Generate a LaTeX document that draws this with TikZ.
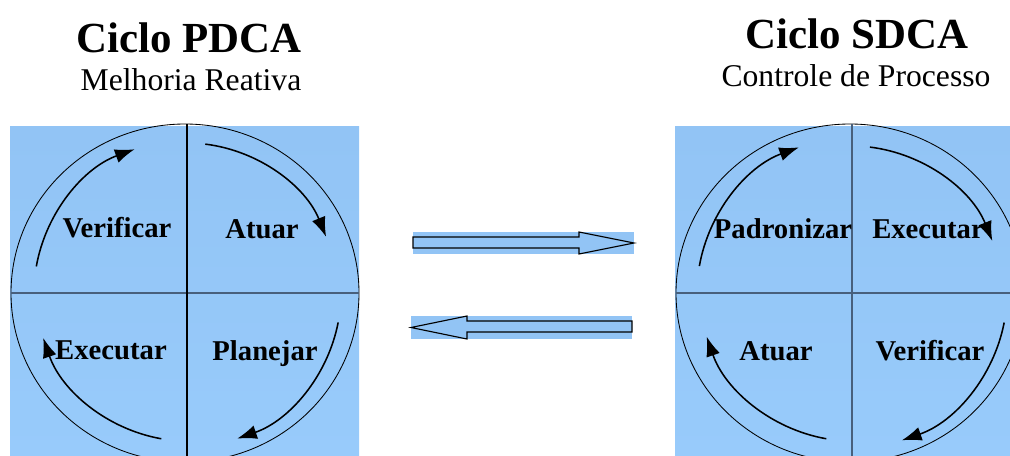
\documentclass[tikz,border=0pt]{standalone}
\usepackage{fontspec}
\setmainfont{Liberation Serif}
\usetikzlibrary{arrows.meta}
\definecolor{painel}{RGB}{146,196,245}
\definecolor{painelbaixo}{RGB}{152,203,251}
\definecolor{eixo}{RGB}{72,96,124}
\tikzset{ciclo/.style = {line width=1.1pt, -{Latex[length=14pt,width=10pt]}}}
\tikzset{rotulo/.style = {anchor=base, font=\fontsize{20.4}{24}\selectfont\bfseries}}
\tikzset{titulo/.style = {anchor=base, font=\fontsize{30.5}{36}\selectfont\bfseries}}
\tikzset{subtitulo/.style = {anchor=base, font=\fontsize{22.5}{27}\selectfont}}
\tikzset{seta/.style = {fill=painel, draw=black, line width=0.8pt, line join=miter}}

\begin{document}
\begin{tikzpicture}[x=0.025cm, y=-0.025cm]
  \clip (0,0) rectangle (1010,455);

  % titulos
  \node[titulo] (tpdca) at (189,52) {Ciclo PDCA};
  \node[subtitulo] (spdca) at (191,90) {Melhoria Reativa};
  \node[titulo] (tsdca) at (857,48) {Ciclo SDCA};
  \node[subtitulo] (ssdca) at (856,86) {Controle de Processo};

  % ciclo PDCA
  \begin{scope}[shift={(187,293)}, yscale=-1]
    \shade[top color=painel, bottom color=painelbaixo] (-177,167) rectangle (172,-170);
    \draw[line width=0.6pt] (-2,0) ellipse [x radius=174, y radius=169];
    \draw[eixo, line width=1.2pt] (-176,0) -- (172,0);
    \draw[line width=1.2pt] (0,169) -- (0,-170);
    \draw[ciclo] (170:153) arc [start angle=170, end angle=110, radius=153];
    \draw[ciclo] (83:150) arc [start angle=83, end angle=22, radius=150];
    \draw[ciclo] (-11:154) arc [start angle=-11, end angle=-71, radius=154];
    \draw[ciclo] (-100:148) arc [start angle=-100, end angle=-161, radius=153];
    \node[rotulo] (verificar) at (-70,56) {Verificar};
    \node[rotulo] (atuar) at (75,55) {Atuar};
    \node[rotulo] (executar) at (-76,-66) {Executar};
    \node[rotulo] (planejar) at (78,-67) {Planejar};
  \end{scope}

  % ciclo SDCA
  \begin{scope}[shift={(852,293)}, yscale=-1]
    \shade[top color=painel, bottom color=painelbaixo] (-177,167) rectangle (170,-170);
    \draw[line width=0.6pt] (-2,0) ellipse [x radius=174, y radius=169];
    \draw[eixo, line width=1.2pt] (-176,0) -- (170,0);
    \draw[eixo, line width=1.2pt] (0,169) -- (0,-170);
    \draw[ciclo] (170:155) arc [start angle=170, end angle=110, radius=155];
    \draw[ciclo] (83:147) arc [start angle=83, end angle=22, radius=152];
    \draw[ciclo] (-11:155) arc [start angle=-11, end angle=-71, radius=156];
    \draw[ciclo] (-100:148) arc [start angle=-100, end angle=-161, radius=155];
    \node[rotulo] (padronizar) at (-69,55) {Padronizar};
    \node[rotulo] (executar2) at (76,55) {Executar};
    \node[rotulo] (atuar2) at (-76,-67) {Atuar};
    \node[rotulo] (verificar2) at (78,-67) {Verificar};
  \end{scope}

  % setas entre os ciclos
  \fill[painel] (413,232) rectangle (634,254);
  \draw[seta] (413,237) -- (579,237) -- (579,232) -- (634,243) -- (579,254) -- (579,248) -- (413,248) -- cycle;
  \fill[painel] (411,316) rectangle (632,339);
  \draw[seta] (632,321) -- (467,321) -- (467,316) -- (411,327.5) -- (467,339) -- (467,332) -- (632,332) -- cycle;
\end{tikzpicture}
\end{document}
